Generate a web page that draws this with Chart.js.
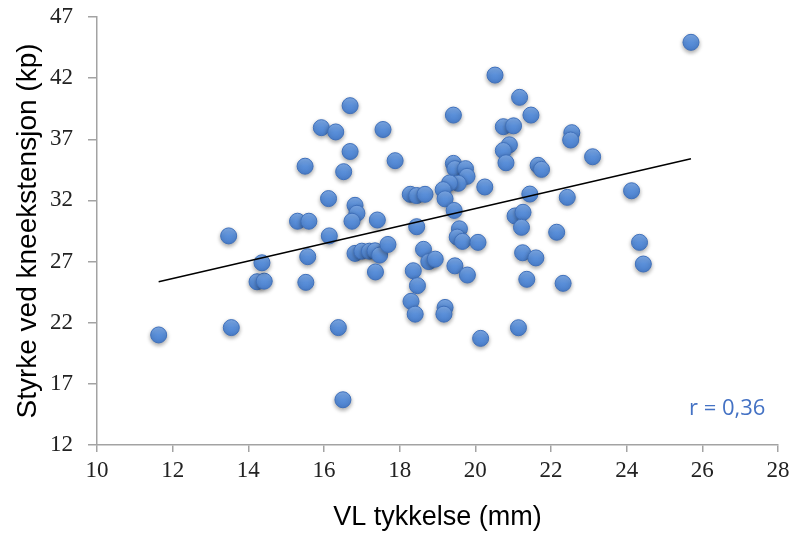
<!DOCTYPE html>
<html>
<head>
<meta charset="utf-8">
<script src="https://cdn.jsdelivr.net/npm/chart.js@4/dist/chart.umd.min.js"></script>
<style>
  html, body { margin: 0; padding: 0; background: #fff; }
  #wrap { width: 796px; height: 540px; }
</style>
</head>
<body>
<div id="wrap"><canvas id="myChart"></canvas></div>
<script>
"use strict";
// VL tykkelse (mm)
const vlThickness = [
    11.63, 13.48, 13.55, 14.23, 14.42, 14.36, 15.30, 15.60, 15.50, 15.57,
    15.52, 15.93, 16.31, 16.69, 16.69, 16.52, 16.12, 16.14, 16.82, 16.87,
    16.74, 17.41, 17.56, 17.88, 16.38, 16.50, 16.82, 17.00, 17.20, 17.35,
    17.47, 17.69, 17.36, 18.28, 18.45, 18.67, 18.45, 18.63, 18.77, 18.94,
    18.36, 18.47, 18.30, 18.41, 19.20, 19.17, 19.42, 19.42, 19.46, 19.74,
    19.78, 19.55, 19.32, 19.15, 19.20, 19.44, 19.58, 19.52, 19.66, 20.07,
    19.46, 19.79, 20.14, 20.25, 20.52, 20.74, 21.01, 21.17, 21.47, 20.90,
    20.74, 20.81, 21.66, 21.75, 21.44, 21.05, 21.26, 21.22, 21.25, 21.60,
    21.36, 21.14, 22.15, 22.32, 22.43, 22.55, 22.52, 23.10, 24.13, 24.34,
    24.44, 25.70
];
// Styrke ved kneekstensjon (kp)
const kneeStrength = [
    21.0, 29.1, 21.6, 25.35, 25.4, 26.9, 30.3, 30.3, 34.8, 27.4,
    25.3, 37.95, 37.6, 39.75, 36.0, 34.35, 32.15, 29.1, 31.6, 30.95,
    30.3, 30.4, 37.8, 35.25, 21.6, 15.7, 27.67, 27.85, 27.85, 27.88,
    27.53, 28.4, 26.15, 32.5, 32.4, 32.5, 29.85, 28.0, 27.0, 27.2,
    26.25, 25.03, 23.75, 22.7, 23.25, 22.7, 38.98, 35.03, 34.6, 34.6,
    33.97, 33.4, 33.43, 32.88, 32.13, 31.18, 29.68, 29.0, 28.65, 28.57,
    26.65, 25.9, 20.72, 33.1, 42.25, 38.03, 38.1, 40.43, 38.98, 36.55,
    36.08, 35.08, 34.87, 34.54, 32.52, 30.73, 31.03, 29.8, 27.72, 27.3,
    25.55, 21.59, 29.4, 25.22, 32.25, 37.54, 36.94, 35.57, 32.79, 28.57,
    26.8, 44.93
];
// Trendlinje
const trendX = [11.63, 25.70];
const trendY = [25.35, 35.41];
const xTicks = [10, 12, 14, 16, 18, 20, 22, 24, 26, 28];
const yTicks = [12, 17, 22, 27, 32, 37, 42, 47];
const rLabel = "r = 0,36";

const points = vlThickness.map((v, i) => ({ x: v, y: kneeStrength[i] }));
const trend = trendX.map((v, i) => ({ x: v, y: trendY[i] }));

const axisGray = '#a3a3a3';

// skygge bak punktene
const shadowPlugin = {
    id: 'pointShadow',
    beforeDatasetDraw(chart, args) {
        if (args.index !== 0) return;
        const ctx = chart.ctx;
        ctx.save();
        ctx.shadowColor = 'rgba(0,0,0,0.35)';
        ctx.shadowBlur = 4;
        ctx.shadowOffsetX = 0;
        ctx.shadowOffsetY = 2;
    },
    afterDatasetDraw(chart, args) {
        if (args.index !== 0) return;
        chart.ctx.restore();
    }
};

// r-verdi nede til høyre
const rTextPlugin = {
    id: 'rText',
    afterDraw(chart) {
        const ctx = chart.ctx;
        ctx.save();
        ctx.font = '22px "Open Sans"';
        ctx.fillStyle = '#4472c4';
        ctx.textAlign = 'left';
        ctx.textBaseline = 'middle';
        ctx.fillText(rLabel, 689, 409);
        ctx.restore();
    }
};

function pointFill(context) {
    const chart = context.chart;
    const raw = context.raw;
    if (!raw || !chart.scales.x) return '#5a8fd9';
    const px = chart.scales.x.getPixelForValue(raw.x);
    const py = chart.scales.y.getPixelForValue(raw.y);
    if (!isFinite(px) || !isFinite(py)) return '#5a8fd9';
    const g = chart.ctx.createLinearGradient(px, py - 8, px, py + 8);
    g.addColorStop(0, '#80adeb');
    g.addColorStop(0.5, '#5a8fd9');
    g.addColorStop(1, '#4a7fcc');
    return g;
}

const config = {
    type: 'scatter',
    data: {
        datasets: [
            {
                label: 'Styrke',
                data: points,
                order: 1,
                pointRadius: 8,
                pointHoverRadius: 8,
                borderWidth: 1,
                borderColor: '#3f70bb',
                backgroundColor: pointFill
            },
            {
                label: 'Trend',
                data: trend,
                order: 0,
                showLine: true,
                pointRadius: 0,
                borderColor: '#000000',
                borderWidth: 1.5,
                fill: false
            }
        ]
    },
    options: {
        responsive: true,
        maintainAspectRatio: false,
        animation: false,
        events: [],
        layout: { padding: { top: 17, right: 18, left: 0, bottom: 0 } },
        plugins: {
            legend: { display: false },
            tooltip: { enabled: false }
        },
        scales: {
            x: {
                type: 'linear',
                min: xTicks[0],
                max: xTicks[xTicks.length - 1],
                afterBuildTicks(scale) {
                    scale.ticks = xTicks.map(v => ({ value: v }));
                },
                afterFit(scale) {
                    scale.height = 95;
                    scale.paddingLeft = 0;
                    scale.paddingRight = 0;
                },
                grid: {
                    drawOnChartArea: false,
                    drawTicks: true,
                    tickLength: 7,
                    color: axisGray,
                    lineWidth: 1.5
                },
                border: { color: axisGray, width: 1.5 },
                ticks: {
                    padding: 5,
                    color: '#222',
                    font: { family: '"Liberation Serif"', size: 23 }
                },
                title: {
                    display: true,
                    text: 'VL tykkelse (mm)',
                    color: '#000',
                    font: { family: '"Liberation Sans"', size: 27 },
                    padding: { top: 0, bottom: 6 }
                }
            },
            y: {
                type: 'linear',
                min: yTicks[0],
                max: yTicks[yTicks.length - 1],
                afterBuildTicks(scale) {
                    scale.ticks = yTicks.map(v => ({ value: v }));
                },
                afterFit(scale) {
                    scale.width = 97;
                    scale.paddingTop = 0;
                    scale.paddingBottom = 0;
                },
                grid: {
                    drawOnChartArea: false,
                    drawTicks: true,
                    tickLength: 9,
                    color: axisGray,
                    lineWidth: 1.5
                },
                border: { color: axisGray, width: 1.5 },
                ticks: {
                    padding: 15,
                    color: '#222',
                    font: { family: '"Liberation Serif"', size: 23 }
                },
                title: {
                    display: true,
                    text: 'Styrke ved kneekstensjon (kp)',
                    color: '#000',
                    font: { family: '"Liberation Sans"', size: 28 },
                    padding: { top: 11, bottom: 4 }
                }
            }
        }
    },
    plugins: [shadowPlugin, rTextPlugin]
};

const myChart = new Chart(document.getElementById('myChart'), config);
</script>
</body>
</html>
